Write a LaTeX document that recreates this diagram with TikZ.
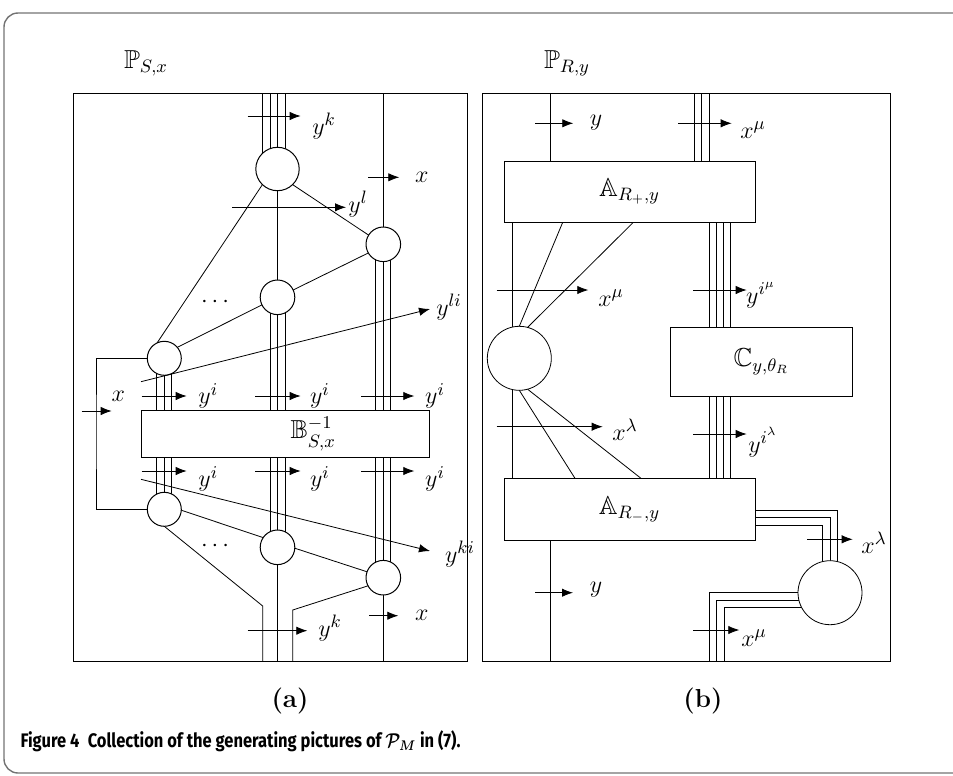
\documentclass[tikz,border=0pt]{standalone}
\usepackage{amssymb}
\usepackage{fontspec}
\usepackage{graphicx}
\usetikzlibrary{arrows.meta,calc}
\newfontfamily\capfont{Fira Sans}
\pgfdeclarelayer{bg}
\pgfsetlayers{bg,main}
\begin{document}
\begin{tikzpicture}[x=0.5pt,y=-0.5pt,line width=0.5pt,
  arr/.style={-{Latex[length=5.5pt,width=4.2pt]}},
  blob/.style={circle,draw,fill=white,inner sep=0pt,outer sep=0pt},
  boxn/.style={draw,fill=white,inner sep=0pt,outer sep=0pt,font=\fontsize{13}{15}\selectfont},
  lab/.style={inner sep=0pt,font=\fontsize{13}{15}\selectfont}]
\useasboundingbox (0,0) rectangle (953,776);
\draw[black!55,line width=0.7pt,rounded corners=7pt] (4,13) rectangle (975,773);
% panels
\draw (73,93) rectangle (467,661);
\draw (482,93) rectangle (890,661);
\coordinate (topL) at (0,93);
\coordinate (botL) at (0,661);
% titles
\node[lab] (tS) at (146,63) {$\mathbb{P}_{S,x}$};
\node[lab] (tR) at (567,63) {$\mathbb{P}_{R,y}$};
\node[lab] (la) at (290,701) {\bfseries (a)};
\node[lab] (lb) at (703,701) {\bfseries (b)};
\node[anchor=west,inner sep=0pt] (cap) at (20,741) {\resizebox{220pt}{\height}{\capfont\fontsize{9.8}{11}\selectfont\bfseries\boldmath Figure 4\enspace Collection of the generating pictures of $\mathcal{P}_M$ in (7).}};
% ---------- left panel ----------
\node[blob,minimum size=21.7pt] (c1) at (277.5,169) {};
\node[blob,minimum size=17.3pt] (c2) at (277.5,297.3) {};
\node[blob,minimum size=17.3pt] (c4) at (383.3,244.3) {};
\node[blob,minimum size=17pt] (c3) at (164.3,358.3) {};
\node[blob,minimum size=17pt] (c5) at (164.3,509.3) {};
\node[blob,minimum size=17.3pt] (c6) at (277.5,547.3) {};
\node[blob,minimum size=17.3pt] (c7) at (383.3,577.7) {};
\node[boxn,minimum width=144.15pt,minimum height=23.3pt] (B) at (285.2,434) {\hspace*{28pt}$\mathbb{B}^{-1}_{S,x}$};
\coordinate (k1) at (262.7,606);
\coordinate (k2) at (292.7,610);
\coordinate (fb) at (96,430);
\begin{pgfonlayer}{bg}
\foreach \s in {-7.4pt,-3.75pt,0pt,3.75pt} \draw ([xshift=\s]c1.center |- topL) -- ([xshift=\s]c1.center);
\draw (c1) -- (c2);
\draw (c4.center |- topL) -- (c4);
\foreach \s in {-3.75pt,0pt,3.75pt}{
 \draw ([xshift=\s]c2.center) -- ([xshift=\s]c2.center |- B.north);
 \draw ([xshift=\s]c4.center) -- ([xshift=\s]c4.center |- B.north);
 \draw ([xshift=\s]c3.center) -- ([xshift=\s]c3.center |- B.north);
 \draw ([xshift=\s]c5.center) -- ([xshift=\s]c5.center |- B.south);
 \draw ([xshift=\s]c6.center) -- ([xshift=\s]c6.center |- B.south);
 \draw ([xshift=\s]c7.center) -- ([xshift=\s]c7.center |- B.south);
}
\draw (c6) -- (c6.center |- botL);
\draw (c7) -- (c7.center |- botL);
\end{pgfonlayer}
\draw (c5.south) -- (k1) -- (k1 |- botL);
\draw (c7.208) -- (k2) -- (k2 |- botL);
\draw (c1.226) -- (c3.115);
\draw (c1.314) -- (c4.148);
\draw (c2.25) -- (c4.210);
\draw (c3.40) -- (c2.206);
\draw (c5.357) -- (c6.146);
\draw (c6.357) -- (c7.160);
\draw (c3.west) -| (fb) |- (c5.west);
\node[lab] (d1) at (215,302) {$\cdots$};
\node[lab] (d2) at (215,546) {$\cdots$};
% arrows left
\draw[arr] (247.7,116) -- (300.7,116);
\node[lab] at (324,126) {$y^k$};
\draw[arr] (368.3,177.3) -- (399.3,177.3);
\node[lab] at (421.7,177) {$x$};
\draw[arr] (232.3,207.3) -- (346,207.3);
\node[lab] at (358,204) {$y^l$};
\draw[arr] (141,381.7) -- (430,309);
\node[lab] at (449,307) {$y^{li}$};
\node[lab] at (118.3,396.7) {$x$};
\draw[arr] (81.7,411) -- (111.7,411);
\foreach \a/\b/\c in {141.7/186.7/208.3, 255/300.7/320, 361/414.3/435}{
 \draw[arr] (\a,396) -- (\b,396);
 \node[lab] at (\c,396) {$y^i$};
 \draw[arr] (\a,471) -- (\b,471);
 \node[lab] at (\c,479) {$y^i$};
}
\draw[arr] (141,479.3) -- (430,551);
\node[lab] at (460,554) {$y^{ki}$};
\draw[arr] (247.7,630.7) -- (307.3,630.7);
\node[lab] at (330,628) {$y^k$};
\draw[arr] (369,615.7) -- (398.3,615.7);
\node[lab] at (421.7,615) {$x$};
% ---------- right panel ----------
\node[boxn,minimum width=125.5pt,minimum height=30.65pt] (Ap) at (629.5,191.7) {$\mathbb{A}_{R_+,y}$};
\node[boxn,minimum width=125.5pt,minimum height=30.85pt] (Am) at (629.5,509.2) {$\mathbb{A}_{R_-,y}$};
\node[boxn,minimum width=91.35pt,minimum height=34.35pt] (C) at (761.35,361.7) {$\mathbb{C}_{y,\theta_R}$};
\node[blob,minimum size=32pt] (D) at (519.3,358.3) {};
\node[blob,minimum size=32pt] (E) at (830,592.7) {};
\coordinate (yw) at (550,93);
\coordinate (tw) at (701.3,93);
\coordinate (mw) at (720,300);
\coordinate (lw) at (512.3,300);
\begin{pgfonlayer}{bg}
\draw (yw) -- (yw |- Ap.north);
\draw (Am.south -| yw) -- (yw |- botL);
\foreach \s in {-3.65pt,0pt,3.85pt} \draw ([xshift=\s]tw) -- ([xshift=\s]tw |- Ap.north);
\foreach \s in {-5.33pt,-1.78pt,1.78pt,5.33pt}{
 \draw ([xshift=\s]mw |- Ap.south) -- ([xshift=\s]mw |- C.north);
 \draw ([xshift=\s]mw |- C.south) -- ([xshift=\s]mw |- Am.north);}
\draw (lw |- Ap.south) -- (lw |- Am.north);
\draw ($(Am.east)+(0,0.8)$) -| ($(E.center)+(7.3,0)$);
\draw ($(Am.east)+(0,8.1)$) -| (E.center);
\draw ($(Am.east)+(0,15.8)$) -| ($(E.center)+(-7.7,0)$);
\draw (E.center) -| ($(botL)+(709.3,0)$);
\draw ($(E.center)+(0,7.3)$) -| ($(botL)+(716.7,0)$);
\draw ($(E.center)+(0,15)$) -| ($(botL)+(724.3,0)$);
\end{pgfonlayer}
\draw ($(Ap.south west)+(58.7,0)$) -- (D.north);
\draw ($(Ap.south west)+(129.3,0)$) -- (D.75);
\draw (D.south) -- ($(Am.north west)+(71,0)$);
\draw (D.285) -- ($(Am.north west)+(137,0)$);
% arrows right
\draw[arr] (535,123.3) -- (573.3,123.3);
\node[lab] at (596,123) {$y$};
\draw[arr] (678.3,123.3) -- (731.7,123.3);
\node[lab] at (753,130) {$x^\mu$};
\draw[arr] (496.7,290) -- (588.3,290);
\node[lab] at (611,298) {$x^\mu$};
\draw[arr] (693.3,290) -- (746.7,290);
\node[lab] at (761,295) {$y^{i^\mu}$};
\draw[arr] (496.7,426.7) -- (602.7,426.7);
\node[lab] at (625,430) {$x^\lambda$};
\draw[arr] (693.3,434) -- (746.7,434);
\node[lab] at (763,442) {$y^{i^\lambda}$};
\draw[arr] (535,592.7) -- (573,592.7);
\node[lab] at (596,590) {$y$};
\draw[arr] (807.3,539.3) -- (852.7,539.3);
\node[lab] at (874,543) {$x^\lambda$};
\draw[arr] (693.3,630) -- (739.3,630);
\node[lab] at (754,638) {$x^\mu$};
\end{tikzpicture}
\end{document}
